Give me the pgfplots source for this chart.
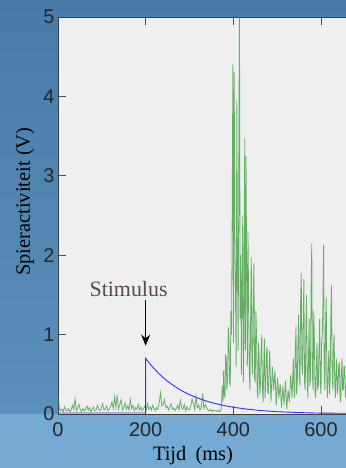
\documentclass[border=0pt]{standalone}
\usepackage{pgfplots}
\pgfplotsset{compat=1.18}
\usetikzlibrary{arrows.meta}
\usepackage{fontspec}
\setmainfont{Liberation Serif}
\newfontfamily\sansf{Liberation Sans}
\definecolor{bgtop}{RGB}{72,124,168}
\definecolor{bgmid}{RGB}{92,144,188}
\definecolor{bgbot}{RGB}{116,170,211}
\definecolor{plotbg}{HTML}{EFEFEF}
\definecolor{emg}{RGB}{30,140,30}
\definecolor{stimcol}{RGB}{90,75,75}
\definecolor{bluecurve}{RGB}{50,50,255}
\begin{document}
\begin{tikzpicture}
\useasboundingbox (0,0) rectangle (346bp,468bp);
\clip (0,0) rectangle (346bp,468bp);
\shade[top color=bgtop, bottom color=bgmid] (0,54bp) rectangle (346bp,468bp);
\fill[bgbot] (0,0) rectangle (346bp,54bp);
\begin{axis}[
  at={(58bp,54bp)}, anchor=south west,
  scale only axis, width=306.8bp, height=397bp,
  xmin=0, xmax=700, ymin=0, ymax=5,
  axis background/.style={fill=plotbg},
  xtick={0,200,400,600}, ytick={0,1,2,3,4,5},
  tick align=inside, major tick length=8bp,
  tick style={black!70, line width=0.8bp},
  axis line style={black!75, line width=0.8bp},
  ticklabel style={font=\sansf\fontsize{20}{24}\selectfont, text=black!85},
  /pgf/number format/assume math mode=true,
  xticklabel style={yshift=-5bp},
  xlabel={Tijd\hspace{0.45em}(ms)}, ylabel={Spieractiviteit (V)},
  label style={font=\fontsize{20.5}{24}\selectfont},
  xlabel style={at={(axis description cs:0.44,-0.106)}, anchor=center},
  ylabel style={at={(axis description cs:-0.1076,0.535)}, anchor=center},
]
\addplot[emg, opacity=0.65, line width=0.8bp] coordinates {
(0,0.22)(3,0.08)(6,0.04)(9,0.06)(12,0.03)(15,0.09)(18,0.05)(21,0.04)(24,0.07)(27,0.03)
(30,0.05)(33,0.11)(36,0.06)(39,0.19)(42,0.04)(45,0.08)(48,0.12)(51,0.05)(54,0.03)(57,0.07)
(60,0.04)(63,0.06)(66,0.10)(69,0.05)(72,0.08)(75,0.03)(78,0.06)(81,0.09)(84,0.04)(87,0.05)
(90,0.11)(93,0.06)(96,0.04)(99,0.08)(102,0.13)(105,0.05)(108,0.07)(111,0.10)(114,0.04)(117,0.06)
(120,0.09)(123,0.15)(126,0.07)(129,0.22)(132,0.08)(135,0.24)(138,0.06)(141,0.12)(144,0.18)(147,0.05)
(150,0.08)(153,0.14)(156,0.06)(159,0.10)(162,0.05)(165,0.19)(168,0.07)(171,0.11)(174,0.04)(177,0.08)
(180,0.06)(183,0.12)(186,0.05)(189,0.09)(192,0.04)(195,0.07)(198,0.10)(201,0.05)(204,0.13)(207,0.06)
(210,0.09)(213,0.05)(216,0.11)(219,0.07)(222,0.04)(225,0.08)(228,0.06)(231,0.15)(234,0.27)(237,0.10)
(240,0.12)(243,0.18)(246,0.08)(249,0.10)(252,0.05)(255,0.09)(258,0.13)(261,0.06)(264,0.08)(267,0.04)
(270,0.07)(273,0.11)(276,0.05)(279,0.17)(282,0.08)(285,0.06)(288,0.12)(291,0.04)(294,0.09)(297,0.06)
(300,0.05)(303,0.10)(306,0.19)(309,0.14)(312,0.06)(315,0.22)(318,0.08)(321,0.11)(324,0.05)(327,0.09)
(330,0.26)(333,0.07)(336,0.12)(339,0.08)(342,0.05)(345,0.04)(348,0.06)(351,0.03)(354,0.05)(357,0.04)
(360,0.04)(363,0.03)(366,0.05)(369,0.03)(372,0.04)
(375,0.35)(376.5,0.15)(378,0.55)(379.5,0.25)(381,0.20)(382.5,0.75)(384,0.68)(385.5,0.30)(387,0.45)(388.5,1.10)
(390,0.95)(391.5,0.40)(393,0.35)(394.5,1.30)(396,1.00)(397.5,2.60)(399,4.40)(400.5,0.90)(402,4.30)(403.5,2.20)
(405,1.50)(406.5,0.60)(408,3.95)(409.5,1.80)(411,0.80)(412.5,2.90)(414,5.30)(415.5,1.20)(417,2.00)(418.5,0.50)
(420,1.60)(421.5,2.50)(423,0.40)(424.5,1.10)(426,3.47)(427.5,0.80)(429,3.25)(430.5,1.70)(432,0.60)(433.5,2.30)
(435,1.40)(436.5,0.50)(438,0.30)(439.5,1.20)(441,1.97)(442.5,0.70)(444,0.50)(445.5,1.50)(447,1.90)(448.5,0.45)
(450,0.40)(451.5,1.30)(453,1.00)(454.5,0.30)(456,0.20)(457.5,0.90)(459,0.70)(460.5,0.25)(462,0.35)(463.5,0.80)
(465,1.00)(466.5,0.30)(468,0.15)(469.5,0.60)(471,0.95)(472.5,0.20)(474,0.40)(475.5,0.75)(477,0.85)(478.5,0.30)
(480,0.25)(483,0.80)(486,0.15)(489,0.60)(492,0.30)(495,0.55)(498,0.10)(501,0.45)(504,0.20)(507,0.38)
(510,0.08)(513,0.35)(516,0.12)(519,0.42)(522,0.06)(525,0.30)(528,0.15)(531,0.50)(534,0.20)
(537,0.70)(538.5,0.30)(540,0.20)(541.5,0.80)(543,1.10)(544.5,0.25)(546,0.40)(547.5,0.90)(549,1.25)(550.5,0.50)
(552,0.35)(553.5,1.40)(555,1.78)(556.5,0.60)(558,0.50)(559.5,1.20)(561,1.70)(562.5,0.40)(564,0.30)(565.5,0.95)
(567,1.50)(568.5,0.50)(570,0.20)(571.5,0.70)(573,1.20)(574.5,0.35)(576,0.45)(577.5,1.60)(579,2.15)(580.5,0.50)
(582,0.30)(583.5,1.30)(585,0.95)(586.5,0.25)(588,0.20)(589.5,0.60)(591,0.90)(592.5,0.30)(594,0.35)(595.5,0.80)
(597,1.20)(598.5,0.40)(600,0.25)(601.5,0.90)(603,1.00)(604.5,1.40)(606,2.13)(607.5,0.50)(609,0.30)(610.5,1.10)
(612,1.47)(613.5,0.40)(615,0.20)(616.5,0.60)(618,0.80)(619.5,0.25)(621,0.45)(622.5,1.20)(624,1.62)(625.5,0.60)
(627,0.30)(628.5,0.85)(630,1.00)(631.5,0.35)(633,0.20)(634.5,0.55)(636,0.70)(637.5,0.25)(639,0.35)(640.5,0.60)
(642,0.65)(643.5,0.20)(645,0.15)(646.5,0.50)(648,0.70)(649.5,0.30)(651,0.30)(652.5,0.60)(654,0.60)(655.5,0.25)
(657,0.20)(658.5,0.50)(660,0.55)(663,0.20)(666,0.60)
};
\addplot[bluecurve, line width=0.9bp] coordinates {
(0,0.012)(100,0.012)(199.9,0.012)(200,0.70)(210,0.63)(220,0.567)(230,0.51)(240,0.459)(250,0.413)
(260,0.372)(270,0.335)(280,0.301)(290,0.271)(300,0.244)(320,0.198)(340,0.16)(360,0.13)(380,0.105)
(400,0.085)(430,0.062)(460,0.045)(500,0.029)(550,0.018)(600,0.011)(700,0.008)
};
\node[font=\fontsize{22}{24}\selectfont, text=stimcol] at (axis cs:161,1.58) {Stimulus};
\draw[-{Stealth[length=11bp,width=9bp]}, line width=1.3bp] (axis cs:200,1.43) -- (axis cs:200,0.86);
\end{axis}
\end{tikzpicture}
\end{document}
